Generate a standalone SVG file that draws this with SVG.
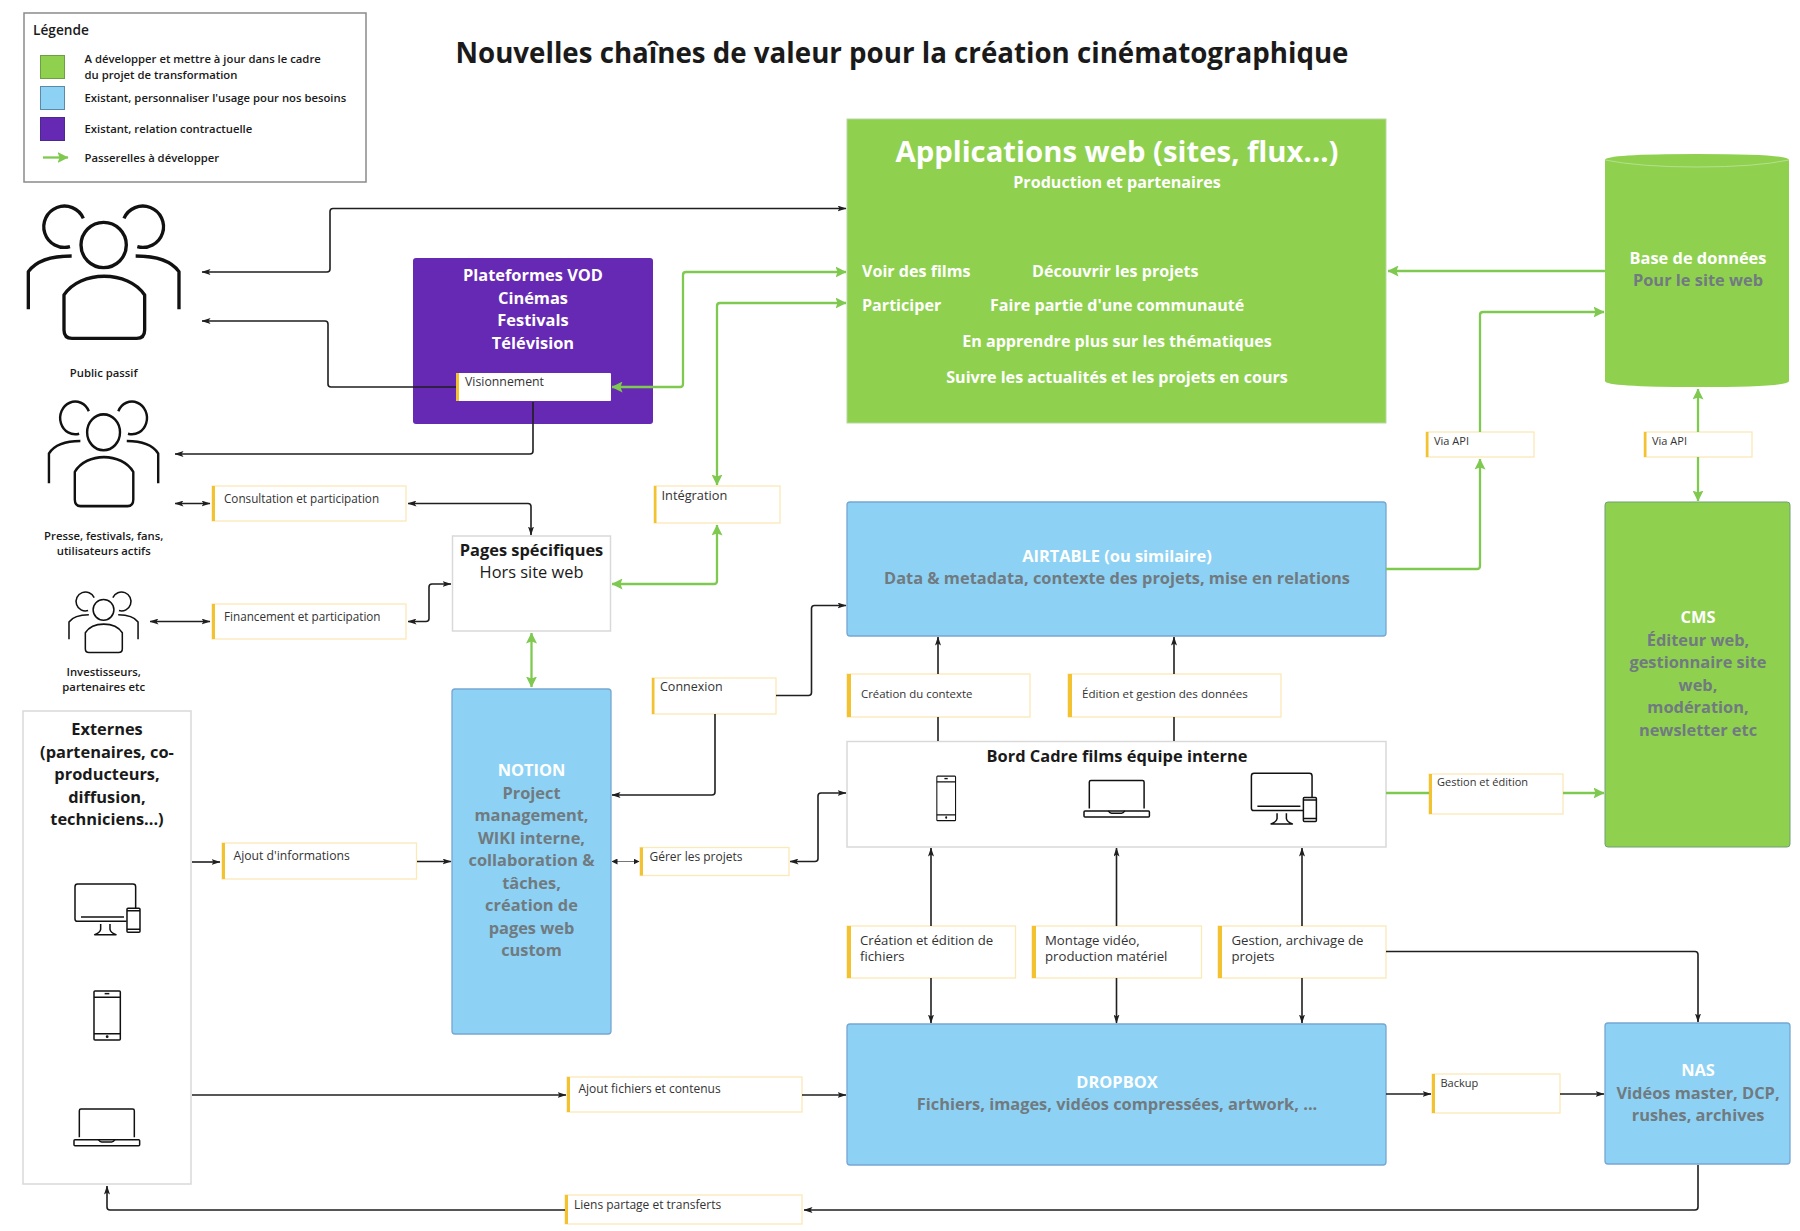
<svg xmlns="http://www.w3.org/2000/svg" width="1800" height="1231" viewBox="0 0 1800 1231">
<style>
text{font-family:"Open Sans","Liberation Sans",sans-serif;fill:#1a1a1a}
.c{text-anchor:middle}
.w{fill:#fff;font-weight:700}
.g{fill:#707a80;font-weight:700}
.b{font-weight:700}
.lb{font-size:11.300px;font-weight:600}
.h{font-size:16.400px}
.l{font-size:12px;fill:#333}
.s11{font-size:11px}
.s13{font-size:13.200px}
.box{fill:#fff;stroke:#d9d9d9;stroke-width:1.5}
.lab{fill:#fff;stroke:#fbe9b7;stroke-width:1.3}
.bar{fill:#f2c230}
.blue{fill:#8dd2f4;stroke:#76a6d2;stroke-width:1.300}
.green{fill:#8fd14f}
.k{fill:none;stroke:#1f1f1f;stroke-width:1.6}
.thin{fill:none;stroke:#777;stroke-width:1}
.v{fill:none;stroke:#7fc950;stroke-width:2.3}
.ic{fill:none;stroke:#111;stroke-width:4.5;stroke-linejoin:round}
.pp{fill:none;stroke:#111;stroke-width:10;stroke-linejoin:round}
</style>
<defs>
<marker id="a" viewBox="0 0 9 6" refX="8.5" refY="3" markerWidth="9" markerHeight="6" markerUnits="userSpaceOnUse" orient="auto-start-reverse"><path d="M0,0L9,3L0,6L2,3Z" fill="#1f1f1f"/></marker>
<marker id="s" viewBox="0 0 6 6" refX="5.500" refY="3" markerWidth="6" markerHeight="6" markerUnits="userSpaceOnUse" orient="auto-start-reverse"><path d="M0,0L6,3L0,6Z" fill="#1f1f1f"/></marker>
<marker id="b" viewBox="0 0 11 11" refX="10.5" refY="5.5" markerWidth="11" markerHeight="11" markerUnits="userSpaceOnUse" orient="auto-start-reverse"><path d="M0,0L11,5.5L0,11L2,5.5Z" fill="#7fc950"/></marker>
<g id="people" class="pp">
<path d="M250,655A62,62 0 1 0 210,740"/><path d="M372,655A62,62 0 1 1 412,740"/>
<circle cx="311" cy="735" r="68"/>
<path d="M215,768C160,768 110,780 85,815V928"/><path d="M407,768C462,768 512,780 537,815V928"/>
<path d="M192,885C240,810 385,810 434,885V990Q434,1015 410,1015H216Q192,1015 192,990Z"/>
</g>
<g id="monitor" class="ic">
<path d="M380,424H232Q225,424 225,417V320Q225,312 233,312H399Q407,312 407,320V384"/>
<path d="M243,411H372"/>
<path d="M302,432V448Q300,458 284,464H348Q332,458 330,448V432"/>
<rect x="381" y="385" width="39" height="72" rx="3"/><path d="M381,392H420M381,448H420"/>
</g>
<g id="phone" class="ic">
<rect x="282" y="633" width="79" height="147" rx="3"/><path d="M282,652H361M282,761H361"/><path d="M314,641H328"/><circle cx="321.500" cy="770" r="2"/>
</g>
<g id="laptop" class="ic">
<path d="M238,1072V992Q238,987 243,987H398Q403,987 403,992V1072"/>
<rect x="222" y="1079" width="197" height="18" rx="3"/>
<path d="M295,1079Q300,1086 305,1086H335Q340,1086 345,1079"/>
</g>
</defs>
<rect width="1800" height="1231" fill="#fff"/>
<text x="902" y="63" class="c" style="font-size:27.700px;font-weight:700">Nouvelles chaînes de valeur pour la création cinématographique</text>
<g id="legend">
<rect x="24" y="13" width="342" height="169" fill="#fff" stroke="#8a8a8a" stroke-width="1.5"/>
<text x="33" y="35" style="font-size:13.700px;font-weight:600">Légende</text>
<rect x="40.500" y="55.500" width="24" height="23" fill="#8fd14f" stroke="#6f9f45"/>
<rect x="40.500" y="86.500" width="24" height="23" fill="#8dd2f4" stroke="#5a8aa5"/>
<rect x="40.500" y="117.500" width="24" height="23" fill="#6629b4" stroke="#4a2a90"/>
<path d="M43,157.500H68" class="v" marker-end="url(#b)"/>
<text x="84.500" y="63" class="lb">A développer et mettre à jour dans le cadre</text>
<text x="84.500" y="78.700" class="lb">du projet de transformation</text>
<text x="84.500" y="101.500" class="lb">Existant, personnaliser l'usage pour nos besoins</text>
<text x="84.500" y="132.500" class="lb">Existant, relation contractuelle</text>
<text x="84.500" y="161.500" class="lb">Passerelles à développer</text>
</g>
<g id="public-passif">
<use href="#people" transform="translate(0,0) scale(0.3333)"/>
<text x="103.700" y="377" class="lb c">Public passif</text>
</g>
<g id="presse">
<use href="#people" transform="translate(28.400,238.600) scale(0.2417,0.2636)"/>
<text x="103.700" y="540" class="lb c">Presse, festivals, fans,</text>
<text x="103.700" y="555" class="lb c">utilisateurs actifs</text>
</g>
<g id="investisseurs">
<use href="#people" transform="translate(56,497.500) scale(0.1528)"/>
<text x="103.700" y="676" class="lb c">Investisseurs,</text>
<text x="103.700" y="691" class="lb c">partenaires etc</text>
</g>
<g id="externes">
<rect class="box" x="23" y="711" width="168" height="473"/>
<g class="b h">
<text x="107" y="735" class="c">Externes</text>
<text x="107" y="757.500" class="c">(partenaires, co-</text>
<text x="107" y="780" class="c">producteurs,</text>
<text x="107" y="802.500" class="c">diffusion,</text>
<text x="107" y="825" class="c">techniciens...)</text>
</g>
<use href="#monitor" transform="translate(0,780) scale(0.3333)"/>
<use href="#phone" transform="translate(0,780) scale(0.3333)"/>
<use href="#laptop" transform="translate(0,780) scale(0.3333)"/>
</g>
<g id="vod">
<rect x="413" y="258" width="240" height="166" rx="3" fill="#6629b4"/>
<g class="h">
<text x="533" y="281" class="c w">Plateformes VOD</text>
<text x="533" y="303.500" class="c w">Cinémas</text>
<text x="533" y="326" class="c w">Festivals</text>
<text x="533" y="348.500" class="c w">Télévision</text>
</g>
</g>
<g id="visionnement">
<rect x="456" y="373" width="155" height="28" rx="1" fill="#fff"/>
<rect class="bar" x="456" y="373" width="3" height="28"/>
<text x="465" y="386" class="l" style="font-size:12.300px">Visionnement</text>
</g>
<g id="apps">
<rect class="green" x="847" y="119" width="539" height="304" stroke="#b5d8a0" stroke-width="1"/>
<text x="1117" y="162" class="c w" style="font-size:29.300px">Applications web (sites, flux...)</text>
<g style="font-size:16.100px">
<text x="1117" y="188" class="c w">Production et partenaires</text>
<text x="862" y="277" class="w">Voir des films</text>
<text x="1032" y="277" class="w">Découvrir les projets</text>
<text x="862" y="311" class="w">Participer</text>
<text x="990" y="311" class="w">Faire partie d'une communauté</text>
<text x="1117" y="347" class="c w">En apprendre plus sur les thématiques</text>
<text x="1117" y="383" class="c w">Suivre les actualités et les projets en cours</text>
</g>
</g>
<g id="base">
<path class="green" d="M1605,160Q1605,154 1697,154Q1789,154 1789,160V381Q1789,387 1697,387Q1605,387 1605,381Z"/>
<path d="M1605,160Q1640,167 1697,167Q1755,167 1789,160" fill="none" stroke="#b5e08f" stroke-width="1"/>
<text x="1698" y="264" class="c w h">Base de données</text>
<text x="1698" y="286" class="c g h">Pour le site web</text>
</g>
<g id="pages">
<rect class="box" x="452.500" y="536" width="158" height="95"/>
<text x="531.500" y="556" class="c h" style="font-weight:700">Pages spécifiques</text>
<text x="531.500" y="578" class="c h">Hors site web</text>
</g>
<g id="notion">
<rect class="blue" x="452" y="689" width="159" height="345" rx="3"/>
<g class="h">
<text x="531.500" y="776" class="c w">NOTION</text>
<text x="531.500" y="798.500" class="c g">Project</text>
<text x="531.500" y="821" class="c g">management,</text>
<text x="531.500" y="843.500" class="c g">WIKI interne,</text>
<text x="531.500" y="866" class="c g">collaboration &amp;</text>
<text x="531.500" y="888.500" class="c g">tâches,</text>
<text x="531.500" y="911" class="c g">création de</text>
<text x="531.500" y="933.500" class="c g">pages web</text>
<text x="531.500" y="956" class="c g">custom</text>
</g>
</g>
<g id="airtable">
<rect class="blue" x="847" y="502" width="539" height="134" rx="3"/>
<text x="1117" y="562" class="c w h">AIRTABLE (ou similaire)</text>
<text x="1117" y="584" class="c g h">Data &amp; metadata, contexte des projets, mise en relations</text>
</g>
<g id="bord-cadre">
<rect class="box" x="847" y="741.500" width="539" height="105.500"/>
<text x="1117" y="762" class="c b h">Bord Cadre films équipe interne</text>
<use href="#phone" transform="translate(870,585) scale(0.237,0.302)"/>
<use href="#laptop" transform="translate(1010.300,452.700) scale(0.332)"/>
<use href="#monitor" transform="translate(1176.400,669.300) scale(0.3333)"/>
</g>
<g id="dropbox">
<rect class="blue" x="847" y="1024" width="539" height="141" rx="3"/>
<text x="1117" y="1088" class="c w h">DROPBOX</text>
<text x="1117" y="1110" class="c g h">Fichiers, images, vidéos compressées, artwork, ...</text>
</g>
<g id="nas">
<rect class="blue" x="1605" y="1023" width="185" height="141" rx="3"/>
<text x="1698" y="1076" class="c w h">NAS</text>
<text x="1698" y="1098.500" class="c g h">Vidéos master, DCP,</text>
<text x="1698" y="1120.500" class="c g h">rushes, archives</text>
</g>
<g id="cms">
<rect x="1605" y="502" width="185" height="345" rx="3" fill="#8fd14f" stroke="#6f9f75" stroke-width="1"/>
<text x="1698" y="623" class="c w h">CMS</text>
<text x="1698" y="646" class="c g h">Éditeur web,</text>
<text x="1698" y="668" class="c g h">gestionnaire site</text>
<text x="1698" y="690.500" class="c g h">web,</text>
<text x="1698" y="713" class="c g h">modération,</text>
<text x="1698" y="735.500" class="c g h">newsletter etc</text>
</g>
<g id="lab-consultation"><rect class="lab" x="212" y="486" width="194" height="35"/><rect class="bar" x="212" y="486" width="3" height="35"/><text x="224" y="502.500" class="l" style="font-size:11.700px">Consultation et participation</text></g>
<g id="lab-financement"><rect class="lab" x="212" y="604" width="194" height="35"/><rect class="bar" x="212" y="604" width="3" height="35"/><text x="224" y="620.500" class="l" style="font-size:11.700px">Financement et participation</text></g>
<g id="lab-ajout-info"><rect class="lab" x="222" y="843" width="194.500" height="36"/><rect class="bar" x="222" y="843" width="3" height="36"/><text x="233.500" y="860" class="l" style="font-size:12.200px">Ajout d'informations</text></g>
<g id="lab-integration"><rect class="lab" x="654" y="486" width="126" height="37"/><rect class="bar" x="654" y="486" width="2.500" height="37"/><text x="661.500" y="500" class="l" style="font-size:12.800px">Intégration</text></g>
<g id="lab-connexion"><rect class="lab" x="652" y="678" width="124" height="36"/><rect class="bar" x="652" y="678" width="2.500" height="36"/><text x="660" y="691" class="l" style="font-size:12.500px">Connexion</text></g>
<g id="lab-gerer"><rect class="lab" x="640" y="847.500" width="149" height="28"/><rect class="bar" x="640" y="847.500" width="3" height="28"/><text x="649.500" y="861" class="l">Gérer les projets</text></g>
<g id="lab-contexte"><rect class="lab" x="847" y="674" width="183" height="43"/><rect class="bar" x="847" y="674" width="4" height="43"/><text x="861" y="698" class="l" style="font-size:11.400px">Création du contexte</text></g>
<g id="lab-edition"><rect class="lab" x="1068" y="674" width="213" height="43"/><rect class="bar" x="1068" y="674" width="4" height="43"/><text x="1082" y="698" class="l" style="font-size:11.600px">Édition et gestion des données</text></g>
<g id="lab-creation"><rect class="lab" x="847" y="926" width="168.500" height="52"/><rect class="bar" x="847" y="926" width="4" height="52"/><text x="860" y="944.500" class="l s13">Création et édition de</text><text x="860" y="961" class="l s13">fichiers</text></g>
<g id="lab-montage"><rect class="lab" x="1032" y="926" width="169.500" height="52"/><rect class="bar" x="1032" y="926" width="4" height="52"/><text x="1045" y="944.500" class="l s13">Montage vidéo,</text><text x="1045" y="961" class="l s13">production matériel</text></g>
<g id="lab-gestion"><rect class="lab" x="1218" y="926" width="168" height="52"/><rect class="bar" x="1218" y="926" width="4" height="52"/><text x="1231.500" y="944.500" class="l s13">Gestion, archivage de</text><text x="1231.500" y="961" class="l s13">projets</text></g>
<g id="lab-via1"><rect class="lab" x="1426" y="432" width="108" height="25"/><rect class="bar" x="1426" y="432" width="2.500" height="25"/><text x="1434" y="445" class="l s11">Via API</text></g>
<g id="lab-via2"><rect class="lab" x="1644" y="432" width="108" height="25"/><rect class="bar" x="1644" y="432" width="2.500" height="25"/><text x="1652" y="445" class="l s11">Via API</text></g>
<g id="lab-gestion-edition"><rect class="lab" x="1429" y="774" width="134" height="40"/><rect class="bar" x="1429" y="774" width="3" height="40"/><text x="1437" y="786" class="l s11">Gestion et édition</text></g>
<g id="lab-backup"><rect class="lab" x="1432" y="1074" width="128" height="39"/><rect class="bar" x="1432" y="1074" width="3" height="39"/><text x="1440.500" y="1087" class="l s11">Backup</text></g>
<g id="lab-ajout-fichiers"><rect class="lab" x="567" y="1077" width="235" height="35"/><rect class="bar" x="567" y="1077" width="3" height="35"/><text x="578.500" y="1093" class="l">Ajout fichiers et contenus</text></g>
<g id="lab-liens"><rect class="lab" x="565" y="1195" width="237" height="29"/><rect class="bar" x="565" y="1195" width="3" height="29"/><text x="574" y="1209" class="l">Liens partage et transferts</text></g>
<g id="connectors">
<path class="k" marker-start="url(#a)" marker-end="url(#a)" d="M202,272H327Q330,272 330,269V211.500Q330,208.500 333,208.500H846"/>
<path class="k" marker-start="url(#a)" d="M202,321H325Q328,321 328,324V384Q328,387 331,387H456"/>
<path class="k" marker-start="url(#a)" d="M175,454H530Q533,454 533,451V402"/>
<path class="k" marker-start="url(#a)" marker-end="url(#a)" d="M175,503.500H210"/>
<path class="k" marker-start="url(#a)" marker-end="url(#a)" d="M150,621.500H210"/>
<path class="k" marker-start="url(#a)" marker-end="url(#a)" d="M408,503.500H528Q531,503.500 531,506.500V535"/>
<path class="k" marker-start="url(#a)" marker-end="url(#a)" d="M408,621.500H426Q429,621.500 429,618.500V587Q429,584 432,584H451"/>
<path class="k" marker-end="url(#a)" d="M192,862H220"/>
<path class="k" marker-end="url(#a)" d="M417,861.500H451"/>
<path class="k" marker-end="url(#a)" d="M192,1095H566"/>
<path class="k" marker-end="url(#a)" d="M802,1095H846"/>
<path class="k" marker-end="url(#a)" d="M1698,1165V1207Q1698,1210 1695,1210H804"/>
<path class="k" marker-end="url(#a)" d="M565,1210H110Q107,1210 107,1207V1186"/>
<path class="k" marker-end="url(#a)" d="M776,695.500H808.500Q811.500,695.500 811.500,692.500V608.500Q811.500,605.500 814.500,605.500H846"/>
<path class="k" marker-end="url(#a)" d="M715,714V792Q715,795 712,795H612"/>
<path class="thin" marker-start="url(#s)" marker-end="url(#s)" d="M612,861.500H639"/>
<path class="k" marker-start="url(#a)" marker-end="url(#a)" d="M790,861.500H815Q818,861.500 818,858.500V796Q818,793 821,793H846"/>
<path class="k" d="M938,741V717"/><path class="k" marker-end="url(#a)" d="M938,674V637"/>
<path class="k" d="M1174,741V717"/><path class="k" marker-end="url(#a)" d="M1174,674V637"/>
<path class="k" marker-end="url(#a)" d="M931,926V848"/><path class="k" marker-end="url(#a)" d="M931,978V1023"/>
<path class="k" marker-end="url(#a)" d="M1116.500,926V848"/><path class="k" marker-end="url(#a)" d="M1116.500,978V1023"/>
<path class="k" marker-end="url(#a)" d="M1302,926V848"/><path class="k" marker-end="url(#a)" d="M1302,978V1023"/>
<path class="k" marker-end="url(#a)" d="M1386,951.500H1695Q1698,951.500 1698,954.500V1022"/>
<path class="k" marker-end="url(#a)" d="M1386,1094H1431"/>
<path class="k" marker-end="url(#a)" d="M1560,1094H1604"/>
<path class="v" marker-start="url(#b)" marker-end="url(#b)" d="M846,272H686Q683,272 683,275V384Q683,387 680,387H612"/>
<path class="v" marker-start="url(#b)" marker-end="url(#b)" d="M717,485V306Q717,303 720,303H846"/>
<path class="v" marker-start="url(#b)" marker-end="url(#b)" d="M612,584H714Q717,584 717,581V525"/>
<path class="v" marker-start="url(#b)" marker-end="url(#b)" d="M531.500,633V687"/>
<path class="v" d="M1386,793H1429"/>
<path class="v" marker-end="url(#b)" d="M1563,793H1604"/>
<path class="v" marker-end="url(#b)" d="M1386,569H1477Q1480,569 1480,566V459"/>
<path class="v" marker-end="url(#b)" d="M1480,432V315Q1480,312 1483,312H1604"/>
<path class="v" marker-end="url(#b)" d="M1605,271H1388"/>
<path class="v" marker-end="url(#b)" d="M1698,432V389"/>
<path class="v" marker-end="url(#b)" d="M1698,457V501"/>
</g>
</svg>
